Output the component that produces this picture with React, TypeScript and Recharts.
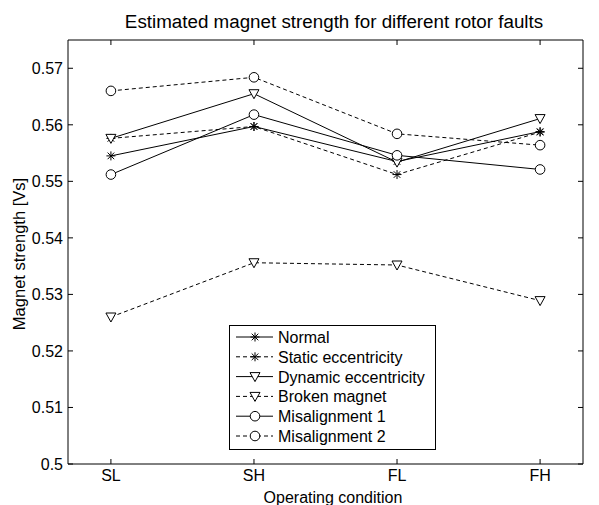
import React from 'react';
import { LineChart, Line, XAxis, YAxis, Legend, Label } from 'recharts';

/* ---- data ---- */
const conditions = ['SL', 'SH', 'FL', 'FH'];
const normal = [0.5545, 0.5597, 0.5535, 0.5588];
const staticEcc = [0.5576, 0.5597, 0.5512, 0.5587];
const dynamicEcc = [0.5576, 0.5655, 0.5534, 0.5611];
const brokenMagnet = [0.526, 0.5356, 0.5352, 0.5289];
const misalign1 = [0.5512, 0.5618, 0.5546, 0.5521];
const misalign2 = [0.566, 0.5684, 0.5584, 0.5564];
const yTicks = [0.5, 0.51, 0.52, 0.53, 0.54, 0.55, 0.56, 0.57];
const xTicks = [1, 2, 3, 4];

type Kind = 'star' | 'tri' | 'circle';

const seriesDefs: { key: string; name: string; kind: Kind; dashed: boolean; values: number[] }[] = [
  { key: 'normal', name: 'Normal', kind: 'star', dashed: false, values: normal },
  { key: 'staticEcc', name: 'Static eccentricity', kind: 'star', dashed: true, values: staticEcc },
  { key: 'dynamicEcc', name: 'Dynamic eccentricity', kind: 'tri', dashed: false, values: dynamicEcc },
  { key: 'broken', name: 'Broken magnet', kind: 'tri', dashed: true, values: brokenMagnet },
  { key: 'mis1', name: 'Misalignment 1', kind: 'circle', dashed: false, values: misalign1 },
  { key: 'mis2', name: 'Misalignment 2', kind: 'circle', dashed: true, values: misalign2 },
];

const data = conditions.map((c, i) => {
  const row: Record<string, number | string> = { x: i + 1, label: c };
  seriesDefs.forEach(s => { row[s.key] = s.values[i]; });
  return row;
});

const FONT = '"Liberation Sans", Arial, sans-serif';
const DASH = '4 3';

function Marker({ kind, cx, cy }: { kind: Kind; cx: number; cy: number }) {
  if (kind === 'star') {
    const r = 4.5, d = 3.3;
    return (
      <g stroke="#000" strokeWidth={1}>
        <line x1={cx - r} y1={cy} x2={cx + r} y2={cy} />
        <line x1={cx} y1={cy - r} x2={cx} y2={cy + r} />
        <line x1={cx - d} y1={cy - d} x2={cx + d} y2={cy + d} />
        <line x1={cx - d} y1={cy + d} x2={cx + d} y2={cy - d} />
      </g>
    );
  }
  if (kind === 'tri') {
    return (
      <polygon
        points={`${cx - 5},${cy - 4} ${cx + 5},${cy - 4} ${cx},${cy + 5}`}
        fill="#fff" stroke="#000" strokeWidth={1}
      />
    );
  }
  return <circle cx={cx} cy={cy} r={4.8} fill="#fff" stroke="#000" strokeWidth={1} />;
}

/* ticks drawn inward like the original plot box */
const BottomTick = (p: any) => (
  <g>
    <line x1={p.x} y1={p.y} x2={p.x} y2={p.y - 5} stroke="#000" />
    <text x={p.x} y={p.y + 17} textAnchor="middle" fontSize={16} fontFamily={FONT} fill="#000">
      {conditions[p.payload.value - 1]}
    </text>
  </g>
);
const TopTick = (p: any) => <line x1={p.x} y1={p.y} x2={p.x} y2={p.y + 5} stroke="#000" />;
const LeftTick = (p: any) => (
  <g>
    <line x1={p.x} y1={p.y} x2={p.x + 5} y2={p.y} stroke="#000" />
    <text x={p.x - 5} y={p.y + 6} textAnchor="end" fontSize={16} fontFamily={FONT} fill="#000">
      {String(Number(p.payload.value.toFixed(2)))}
    </text>
  </g>
);
const RightTick = (p: any) => <line x1={p.x} y1={p.y} x2={p.x - 5} y2={p.y} stroke="#000" />;

function LegendBox() {
  return (
    <svg width={208} height={126} style={{ display: 'block' }}>
      <rect x={0.5} y={0.5} width={206} height={124} fill="#fff" stroke="#000" />
      {seriesDefs.map((s, i) => {
        const y = 12 + i * 19.8;
        return (
          <g key={s.key}>
            <line x1={7} y1={y} x2={44} y2={y} stroke="#000" strokeDasharray={s.dashed ? DASH : undefined} />
            <Marker kind={s.kind} cx={26} cy={y} />
            <text x={49} y={y + 6} fontSize={16} fontFamily={FONT} fill="#000">{s.name}</text>
          </g>
        );
      })}
    </svg>
  );
}

export default function App() {
  return (
    <div style={{ position: 'absolute', left: 0, top: 0, background: '#fff' }}>
      <LineChart width={599} height={505} data={data} margin={{ top: 0, right: 0, bottom: 0, left: 0 }}>
        <XAxis
          dataKey="x" type="number" domain={[0.7, 4.3]} ticks={xTicks} height={41}
          stroke="#000" tickSize={0} tickMargin={0} tick={BottomTick} interval={0}
        >
          <Label content={() => (
            <text x={333} y={503} textAnchor="middle" fontSize={16} fontFamily={FONT} fill="#000">
              Operating condition
            </text>
          )} />
        </XAxis>
        <XAxis
          xAxisId="top" orientation="top" dataKey="x" type="number" domain={[0.7, 4.3]} ticks={xTicks}
          height={40} stroke="#000" tickSize={0} tickMargin={0} tick={TopTick} interval={0}
        >
          <Label content={() => (
            <text x={334} y={28} textAnchor="middle" fontSize={18.8} fontFamily={FONT} fill="#000">
              Estimated magnet strength for different rotor faults
            </text>
          )} />
        </XAxis>
        <YAxis
          type="number" domain={[0.5, 0.575]} ticks={yTicks} width={68} stroke="#000"
          tickSize={0} tickMargin={0} tick={LeftTick} interval={0} allowDataOverflow
        >
          <Label content={() => (
            <text x={25} y={254} textAnchor="middle" fontSize={16.5} fontFamily={FONT} fill="#000"
              transform="rotate(-90 25 254)">
              Magnet strength [Vs]
            </text>
          )} />
        </YAxis>
        <YAxis
          yAxisId="right" orientation="right" type="number" domain={[0.5, 0.575]} ticks={yTicks}
          width={16} stroke="#000" tickSize={0} tickMargin={0} tick={RightTick} interval={0} allowDataOverflow
        />
        {seriesDefs.map(s => (
          <Line
            key={s.key}
            dataKey={s.key}
            name={s.name}
            stroke="#000"
            strokeWidth={1}
            strokeDasharray={s.dashed ? DASH : undefined}
            isAnimationActive={false}
            dot={(p: any) => <Marker key={`${s.key}-${p.index}`} kind={s.kind} cx={p.cx} cy={p.cy} />}
            activeDot={false}
          />
        ))}
        <Legend
          layout="vertical" align="center" verticalAlign="middle"
          wrapperStyle={{ left: 229, top: 325, width: 208, height: 126 }}
          content={() => <LegendBox />}
        />
      </LineChart>
    </div>
  );
}
